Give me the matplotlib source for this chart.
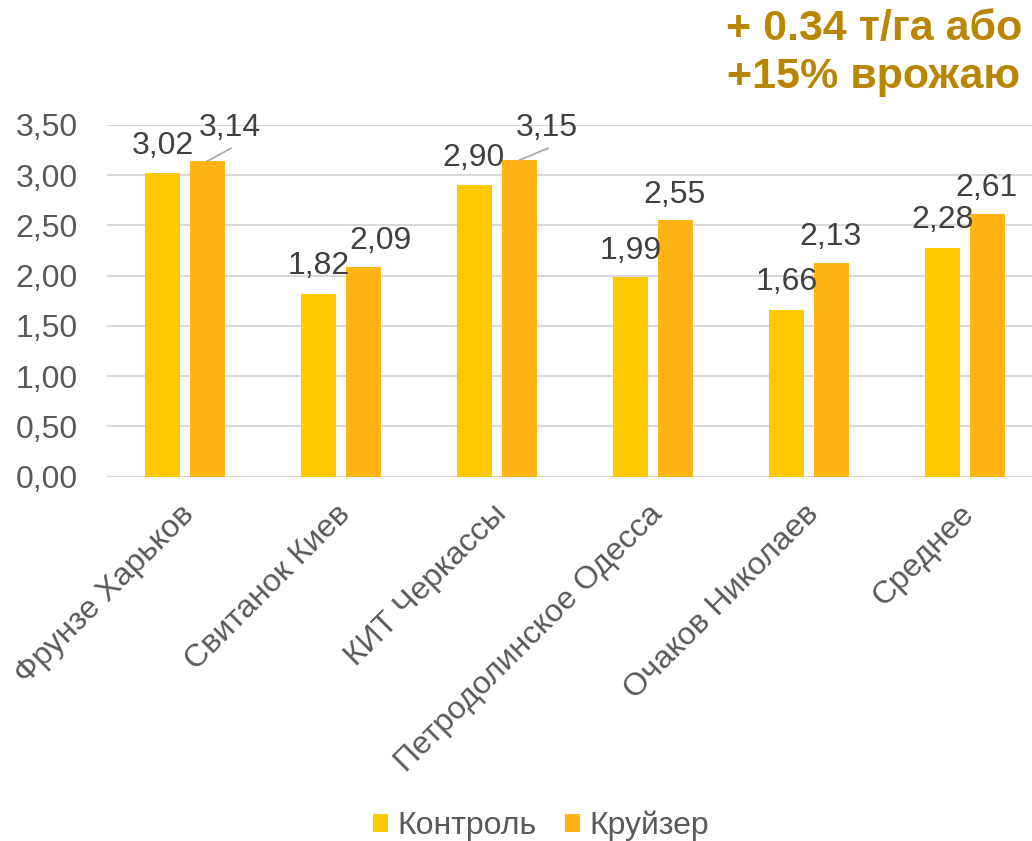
import numpy as np
import matplotlib.pyplot as plt
from matplotlib.transforms import ScaledTranslation

plt.rcParams['font.family'] = ['Liberation Sans', 'DejaVu Sans']

categories = ['Фрунзе Харьков', 'Свитанок Киев', 'КИТ Черкассы',
              'Петродолинское Одесса', 'Очаков Николаев', 'Среднее']
control = [3.02, 1.82, 2.90, 1.99, 1.66, 2.28]
cruiser = [3.14, 2.09, 3.15, 2.55, 2.13, 2.61]
series_names = ['Контроль', 'Круйзер']
headline = '+ 0.34 т/га або\n+15% врожаю'

# label offsets in pixels (dx, dy) from the top centre of each bar
control_offsets = [(0, 27), (0, 28), (-1, 27), (0, 26), (0, 28), (0, 28)]
cruiser_offsets = [(23, 33), (17, 26), (28, 32), (-1, 25), (-1, 26), (-1, 26)]
cruiser_leader = [True, False, True, False, False, False]

c_control = '#FFC800'
c_cruiser = '#FFB314'
txt = '#404040'
fs = 23

fig = plt.figure(figsize=(10.32, 8.41), dpi=100)
ax = fig.add_axes([107 / 1032, (841 - 476.7) / 841, 925 / 1032, 351.7 / 841])

x = np.arange(len(categories))
w = 0.224
off = 0.143
ax.bar(x - off, control, w, color=c_control, label=series_names[0], zorder=2)
ax.bar(x + off, cruiser, w, color=c_cruiser, label=series_names[1], zorder=2)

def fmt(v):
    return f'{v:.2f}'.replace('.', ',')

for i, v in enumerate(control):
    dx, dy = control_offsets[i]
    ax.annotate(fmt(v), (x[i] - off, v), xytext=(dx, dy), textcoords='offset pixels',
                ha='center', va='center', fontsize=fs, color=txt, annotation_clip=False)

for i, v in enumerate(cruiser):
    dx, dy = cruiser_offsets[i]
    ax.annotate(fmt(v), (x[i] + off, v), xytext=(dx, dy), textcoords='offset pixels',
                ha='center', va='center', fontsize=fs, color=txt, annotation_clip=False)
    if cruiser_leader[i]:
        ax.annotate('', (x[i] + off, v), xytext=(dx + 1, dy - 20), textcoords='offset pixels',
                    annotation_clip=False,
                    arrowprops=dict(arrowstyle='-', color='#A6A6A6', lw=1.2,
                                    shrinkA=0, shrinkB=0))

ax.set_xlim(-0.5, 5.43)
ax.set_ylim(0, 3.5)
ax.set_yticks(np.arange(0, 3.51, 0.5))
ax.set_yticklabels([fmt(t) for t in np.arange(0, 3.51, 0.5)])
ax.grid(axis='y', color='#D9D9D9', lw=1.5, zorder=0)
ax.set_axisbelow(True)
for s in ax.spines.values():
    s.set_visible(False)
ax.tick_params(axis='y', length=0, pad=21, labelsize=fs, labelcolor='#595959')
ax.tick_params(axis='x', length=0, pad=0, labelsize=fs, labelcolor='#595959')

ax.set_xticks(x)
ax.set_xticklabels(categories, rotation=45, ha='right', va='center', rotation_mode='anchor')
shift = ScaledTranslation(0.05, -0.33, fig.dpi_scale_trans)
for lbl in ax.get_xticklabels():
    lbl.set_transform(lbl.get_transform() + shift)

fig.legend(loc='center', bbox_to_anchor=(541 / 1032, 1 - 826 / 841), ncol=2, frameon=False,
           fontsize=fs, labelcolor='#595959', handlelength=0.47, handleheight=0.47,
           handletextpad=0.3, columnspacing=0.9)

fig.text(874 / 1032, 1 - 53 / 841, headline, ha='center', va='center', fontsize=31,
         fontweight='bold', color='#B88600', linespacing=1.28)

fig.savefig('out.png', dpi=100)
